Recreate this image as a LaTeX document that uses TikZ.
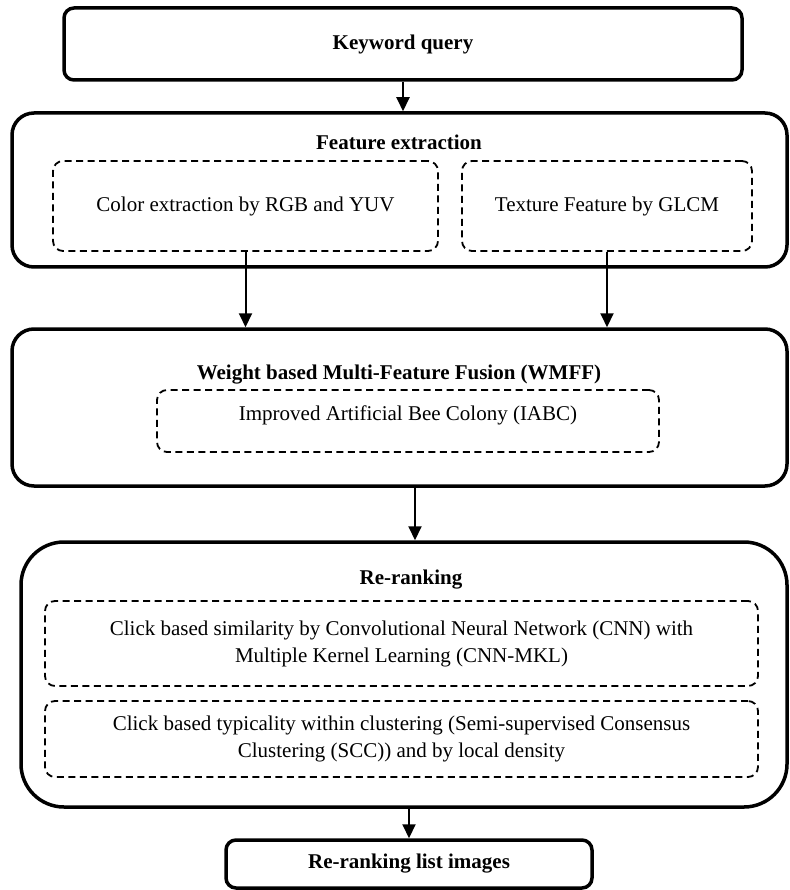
\documentclass[tikz,border=0pt]{standalone}
\usepackage{fontspec}
\setmainfont{Liberation Serif}
\usetikzlibrary{calc,arrows.meta}

\newcommand{\boxfont}{\fontsize{21}{27}\selectfont}

\tikzset{
  mainbox/.style={draw,line width=3.5pt,rounded corners=#1,inner sep=0pt},
  mainbox/.default=10pt,
  subbox/.style={draw,line width=1.8pt,dash pattern=on 7pt off 4.5pt,rounded corners=10pt,inner sep=0pt,align=center},
  flow/.style={line width=2pt,-{Triangle[length=14pt,width=13pt]}},
  boxtitle/.style={font=\boxfont\bfseries},
}

\begin{document}
\begin{tikzpicture}[x=1pt,y=-1pt,font=\boxfont]
		\useasboundingbox (0,0) rectangle (789,890);
		% query
		\node[mainbox,boxtitle,minimum width=678pt,minimum height=72pt] (kq) at (403,44) {Keyword query};
		% feature extraction
		\node[mainbox=22pt,minimum width=775pt,minimum height=154pt] (fe) at (399.5,190) {};
		\node[boxtitle] (fetitle) at (399,142) {Feature extraction};
		\node[subbox,minimum width=385pt,minimum height=90pt] (color) at (245.5,206) {Color extraction by RGB and YUV};
		\node[subbox,minimum width=290pt,minimum height=90pt] (texture) at (607,206) {Texture Feature by GLCM};
		% fusion
		\node[mainbox=22pt,minimum width=775pt,minimum height=157pt] (wmff) at (399.5,407.5) {};
		\node[boxtitle] (wmfftitle) at (399,375) {Weight based Multi-Feature Fusion (WMFF)};
		\node[subbox,minimum width=502pt,minimum height=62pt] (iabc) at (408,421) {};
		\node (iabctext) at (408,415) {Improved Artificial Bee Colony (IABC)};
		% re-ranking
		\node[mainbox=43pt,minimum width=766pt,minimum height=265pt] (rr) at (404,674.5) {};
		\node[boxtitle] (rrtitle) at (411,580) {Re-ranking};
		\node[subbox,minimum width=713pt,minimum height=85pt] (click) at (401.5,643.5) {Click based similarity by Convolutional Neural Network (CNN) with\\Multiple Kernel Learning (CNN-MKL)};
		\node[subbox,minimum width=713pt,minimum height=76pt] (typical) at (401.5,739) {Click based typicality within clustering (Semi-supervised Consensus\\Clustering (SCC)) and by local density};
		% output
		\node[mainbox,boxtitle,minimum width=366pt,minimum height=48pt] (final) at (409,864) {Re-ranking list images};
		% arrows
		\draw[flow] (kq.south) -- (kq.south |- fe.north);
		\draw[flow] (color.south) -- (color.south |- wmff.north);
		\draw[flow] (texture.south) -- (texture.south |- wmff.north);
		\coordinate (wmffout) at ($(wmff.south)+(15.5,0)$);
		\draw[flow] (wmffout) -- (wmffout |- rr.north);
		\draw[flow] (final.north |- rr.south) -- (final.north);
	\end{tikzpicture}
\end{document}
